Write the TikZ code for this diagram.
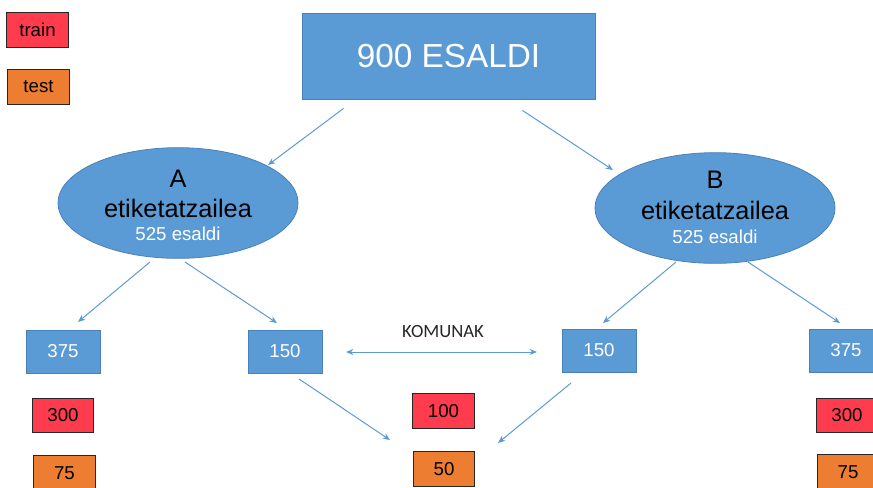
\documentclass[tikz,border=0pt]{standalone}
\usepackage{fontspec}
\setmainfont{Liberation Sans}
\newfontfamily\calibrifont{Carlito}
\usetikzlibrary{calc,arrows.meta,shapes.geometric}

\definecolor{boxblue}{HTML}{5B9BD5}
\definecolor{edgeblue}{HTML}{4A80B8}
\definecolor{trainred}{HTML}{FF3B4E}
\definecolor{testorange}{HTML}{ED7D31}
\definecolor{inkdark}{HTML}{262626}

\begin{document}
\begin{tikzpicture}[x=0.75pt,y=-0.75pt,
  bluebox/.style={rectangle, fill=boxblue, draw=edgeblue, line width=0.6pt,
    minimum width=55.5pt, minimum height=32.25pt, inner sep=0pt, outer sep=0pt,
    text=white, font=\fontsize{14}{16}\selectfont},
  redbox/.style={rectangle, fill=trainred, draw=inkdark, line width=0.75pt,
    minimum width=46pt, minimum height=26pt, inner sep=0pt, outer sep=0pt,
    text=black, font=\fontsize{14}{16}\selectfont},
  orangebox/.style={redbox, fill=testorange},
  labeler/.style={ellipse, fill=boxblue, draw=edgeblue, line width=0.6pt,
    minimum width=180pt, minimum height=83pt, inner sep=0pt, outer sep=0pt},
  bigtext/.style={font=\fontsize{19}{22}\selectfont, text=black, anchor=base, inner sep=0pt},
  smalltext/.style={font=\fontsize{14}{16}\selectfont, text=white, anchor=base, inner sep=0pt},
  link/.style={draw=boxblue, line width=0.75pt, -{Stealth[length=5.5pt,width=4.5pt]}},
  twoway/.style={draw=boxblue, line width=0.75pt, {Stealth[length=5.5pt,width=4.5pt]}-{Stealth[length=5.5pt,width=4.5pt]}},
]
\useasboundingbox (0,0) rectangle (873,487);
\clip (0,0) rectangle (873,487);

% legend
\node[redbox]    (train) at (37.5,30) {train};
\node[orangebox] (test)  at (38.5,87) {test};

% the whole corpus
\node[rectangle, fill=boxblue, draw=edgeblue, line width=0.6pt,
      minimum width=219.75pt, minimum height=64.5pt, inner sep=0pt,
      text=white, font=\fontsize{25}{30}\selectfont] (top) at (448.5,56) {900 ESALDI};

% the two annotators
\node[labeler] (A) at (178,203) {};
\node[bigtext]   (Aname) at ($(A.center)+(0,-16)$) {A};
\node[bigtext]   (Arole) at ($(A.center)+(0,14)$) {etiketatzailea};
\node[smalltext] (Acount) at ($(A.center)+(0,37)$) {525 esaldi};

\node[labeler] (B) at (715,208) {};
\node[bigtext]   (Bname) at ($(B.center)+(0,-20)$) {B};
\node[bigtext]   (Brole) at ($(B.center)+(0,11)$) {etiketatzailea};
\node[smalltext] (Bcount) at ($(B.center)+(0,35)$) {525 esaldi};

% splits
\node[bluebox] (L375) at (63,351.5) {375};
\node[bluebox] (L150) at (285,351.5) {150};
\node[bluebox] (R150) at (599,350.5) {150};
\node[bluebox] (R375) at (846,350.5) {375};

\node[redbox]    (L300) at (63,415.5) {300};
\node[orangebox] (L75)  at (64.5,473) {75};
\node[redbox]    (M100) at (443.5,411) {100};
\node[orangebox] (M50)  at (444,469) {50};
\node[redbox]    (R300) at (847,415.5) {300};
\node[orangebox] (R75)  at (848,472) {75};

\node[font=\calibrifont\fontsize{14}{16}\selectfont, text=inkdark, inner sep=0pt]
  (common) at (443,331) {KOMUNAK};

% connectors
\draw[link] ($(top.south west)+(42,9)$) -- ($(A.center)+(90,-38)$);
\draw[link] ($(top.south east)+(-73,11)$) -- ($(B.center)+(-102,-38)$);

\draw[link] ($(A.center)+(-28,59)$) -- ($(L375.center)+(15,-29.5)$);
\draw[link] ($(A.center)+(7,59)$) -- ($(L150.center)+(-8,-28.5)$);

\draw[link] ($(B.center)+(-39,54)$) -- ($(R150.center)+(4,-27.5)$);
\draw[link] ($(B.center)+(33,54)$) -- ($(R375.center)+(-6,-27.5)$);

\draw[link] ($(L150.center)+(14,27.5)$) -- ($(M50.center)+(-54,-29)$);
\draw[link] ($(R150.center)+(-28,32.5)$) -- ($(M50.center)+(54,-26)$);

\draw[twoway] ($(L150.east)+(24,0.5)$) -- ($(R150.west)+(-25,1.5)$);
\end{tikzpicture}
\end{document}
